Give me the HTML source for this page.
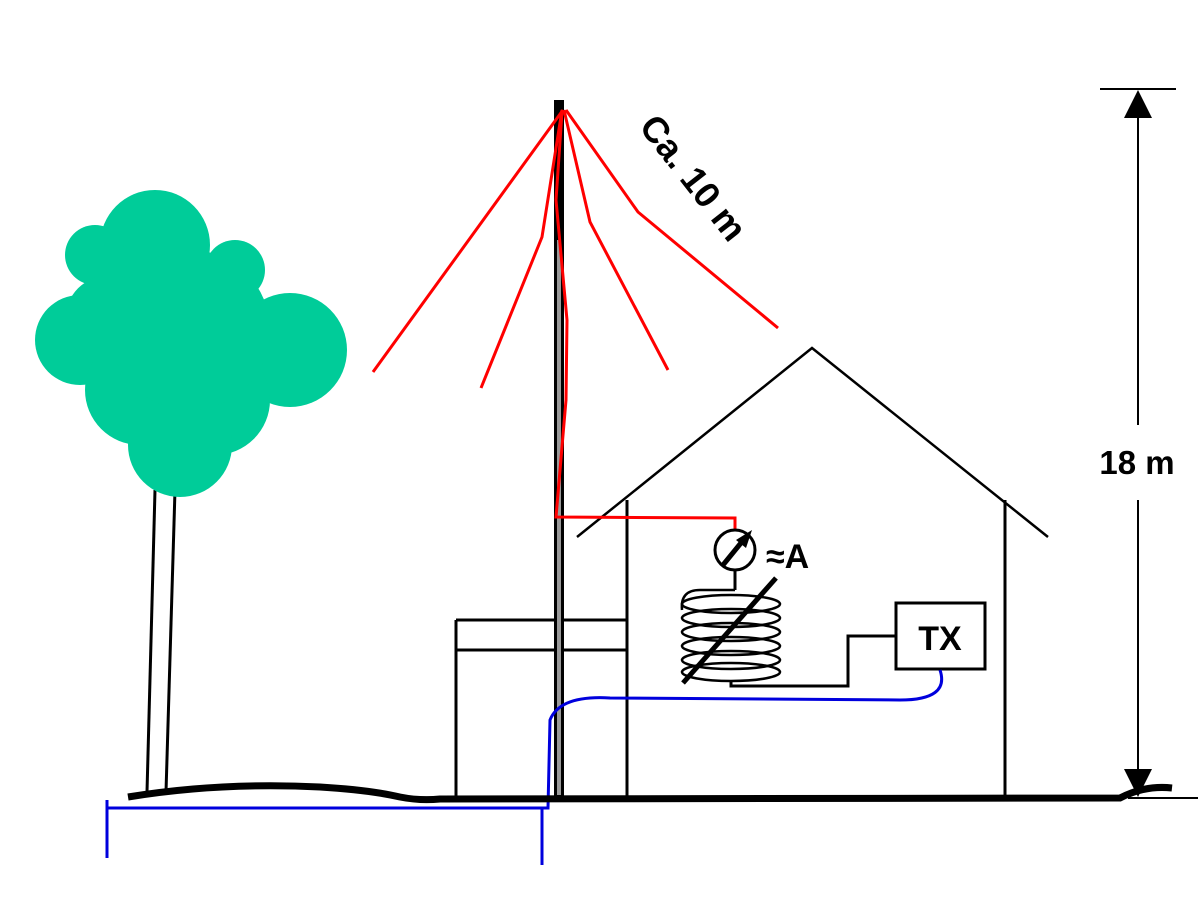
<!DOCTYPE html>
<html><head><style>body{margin:0;background:#fff}svg{display:block}</style></head><body>
<svg width="1198" height="898" viewBox="0 0 1198 898" xmlns="http://www.w3.org/2000/svg" font-family="Liberation Sans, sans-serif">
<!-- tree -->
<line x1="155" y1="490" x2="147" y2="792" stroke="#000" stroke-width="3"/>
<line x1="175" y1="490" x2="166" y2="792" stroke="#000" stroke-width="3"/>
<g fill="#00cc99">
<circle cx="155" cy="245" r="55"/><circle cx="95" cy="255" r="30"/><circle cx="235" cy="270" r="30"/>
<circle cx="80" cy="340" r="45"/><circle cx="290" cy="350" r="57"/><circle cx="140" cy="390" r="55"/>
<circle cx="215" cy="400" r="55"/><circle cx="180" cy="445" r="52"/><circle cx="190" cy="330" r="80"/>
<circle cx="110" cy="320" r="45"/>
</g>
<!-- house -->
<g stroke="#000" stroke-width="3" fill="none">
<polyline points="577,537 812,348 1048,537" stroke-width="2.5"/>
<line x1="627" y1="500" x2="627" y2="797"/>
<line x1="1005" y1="500" x2="1005" y2="797"/>
<line x1="456" y1="620" x2="627" y2="620"/>
<line x1="456" y1="650" x2="627" y2="650"/>
<line x1="456" y1="620" x2="456" y2="797"/>
</g>
<!-- mast -->
<rect x="554" y="100" width="10" height="698" fill="#000"/>
<rect x="557" y="240" width="4" height="555" fill="#999"/>
<!-- red wires -->
<g stroke="#f00" stroke-width="3" fill="none">
<polyline points="563,110 373,372"/>
<polyline points="562,110 542,237 481,388"/>
<polyline points="564,110 590,222 668,370"/>
<polyline points="566,110 638,212 778,328"/>
<polyline points="562,112 556,200 567,320 566,400 556,517 735,518 735,530"/>
</g>
<!-- meter -->
<circle cx="735" cy="550" r="20" fill="none" stroke="#000" stroke-width="3"/>
<line x1="723" y1="565" x2="745" y2="538" stroke="#000" stroke-width="5"/>
<polygon points="752,530 736,540 746,548" fill="#000"/>
<line x1="735" y1="570" x2="735" y2="590" stroke="#000" stroke-width="3"/>
<text x="766" y="568" font-size="34" font-weight="bold">≈A</text>
<!-- coil -->
<g stroke="#000" stroke-width="2.5" fill="none">
<path d="M735,590 H700 Q680,590 682,610"/>
<ellipse cx="731" cy="604" rx="49" ry="9"/><ellipse cx="731" cy="618" rx="49" ry="9"/>
<ellipse cx="731" cy="632" rx="49" ry="9"/><ellipse cx="731" cy="646" rx="49" ry="9"/>
<ellipse cx="731" cy="660" rx="49" ry="9"/><ellipse cx="731" cy="672" rx="49" ry="9"/>
<polyline points="731,680 731,686 848,686 848,636 897,636" stroke-width="3"/>
</g>
<line x1="683" y1="683" x2="776" y2="578" stroke="#000" stroke-width="5"/>
<rect x="896" y="603" width="89" height="66" fill="#fff" stroke="#000" stroke-width="3"/>
<text x="940" y="650" font-size="34" font-weight="bold" text-anchor="middle">TX</text>
<!-- blue -->
<g stroke="#0000dd" stroke-width="3" fill="none">
<path d="M940,670 Q950,700 900,700 L610,698 Q560,695 550,720 L548,808 L107,808"/>
<line x1="542" y1="808" x2="542" y2="865"/>
<line x1="107" y1="800" x2="107" y2="858"/>
</g>
<!-- ground -->
<path d="M128,797 Q220,782 320,787 Q370,790 400,797 Q420,801 440,799 L1120,798 Q1145,785 1172,788" stroke="#000" stroke-width="7" fill="none"/>
<!-- dimension -->
<g stroke="#000" stroke-width="2">
<line x1="1100" y1="89" x2="1176" y2="89"/>
<line x1="1128" y1="798" x2="1198" y2="798"/>
<line x1="1138" y1="110" x2="1138" y2="425"/>
<line x1="1138" y1="500" x2="1138" y2="780"/>
</g>
<polygon points="1138,90 1124,118 1152,118" fill="#000"/>
<polygon points="1138,797 1124,769 1152,769" fill="#000"/>
<text x="1137" y="474" font-size="33" font-weight="bold" text-anchor="middle">18 m</text>
<text x="0" y="0" font-size="36" font-weight="bold" transform="translate(638,127) rotate(52)">Ca. 10 m</text>
</svg>
</body></html>
